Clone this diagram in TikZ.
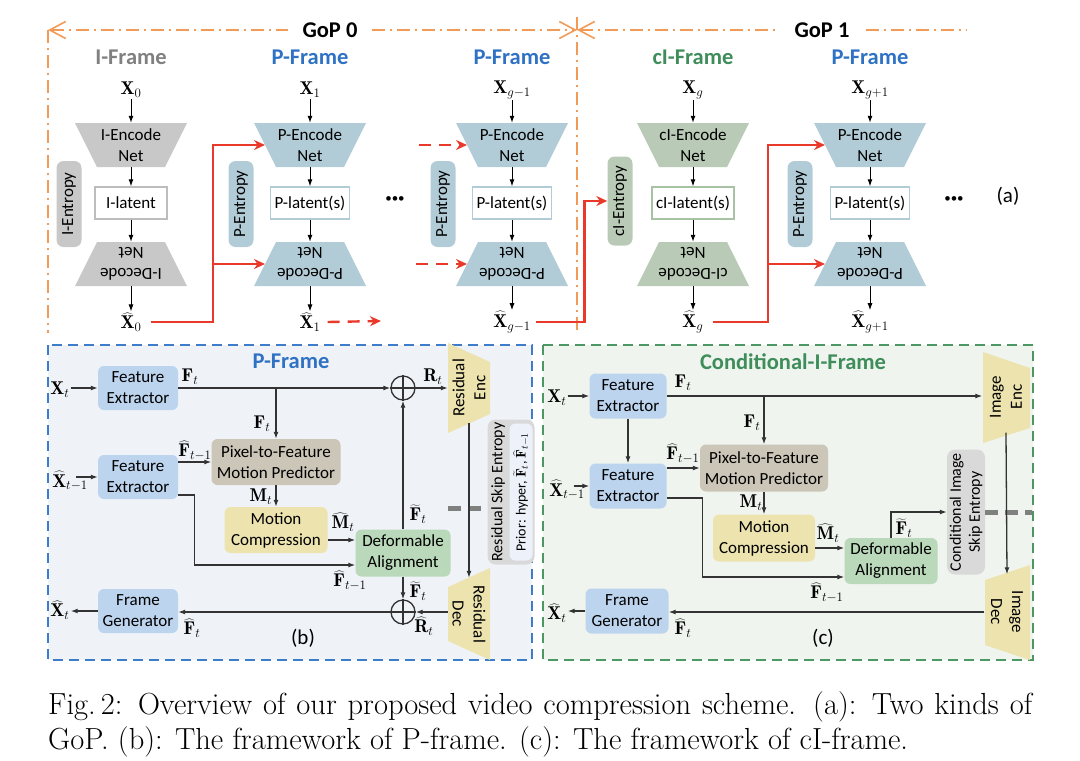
\RequirePackage{fix-cm}
\documentclass[tikz,border=0pt]{standalone}
\usepackage{fontspec}
\newfontfamily\diag{Carlito}
\usetikzlibrary{arrows.meta,calc,backgrounds}

\definecolor{ifill}{HTML}{C8C8C8}
\definecolor{pfill}{HTML}{B2CCD7}
\definecolor{cfill}{HTML}{B9CBB6}
\definecolor{iline}{HTML}{BDBDBD}
\definecolor{cline}{HTML}{A8C2A4}
\definecolor{ititle}{HTML}{808080}
\definecolor{ptitle}{HTML}{2F72C4}
\definecolor{ctitle}{HTML}{3E8D5A}
\definecolor{gopcol}{HTML}{F29B58}
\definecolor{rotlinie}{HTML}{E8392B}
\definecolor{fefill}{HTML}{BDD4EE}
\definecolor{pmfill}{HTML}{CCC6B8}
\definecolor{mcfill}{HTML}{EDE3AE}
\definecolor{dafill}{HTML}{BAD8BA}
\definecolor{skfill}{HTML}{D9D9D9}
\definecolor{prfill}{HTML}{EDF1FA}
\definecolor{bbox}{HTML}{3D7CC9}
\definecolor{bback}{HTML}{EFF3F8}
\definecolor{cbox}{HTML}{4C9764}
\definecolor{cback}{HTML}{EFF4EF}
\definecolor{pfeilcol}{HTML}{333333}

\tikzset{
  txt/.style={font=\diag\fontsize{17}{21}\selectfont, align=center},
  lab/.style={inner sep=1pt, font=\fontsize{18.5}{21}\selectfont},
  titel/.style={font=\diag\bfseries\fontsize{22.5}{25}\selectfont},
  trap/.style={txt, minimum width=112, minimum height=44, inner sep=0},
  latent/.style={txt, draw=#1, line width=1.3pt, fill=white, minimum width=72, minimum height=32, inner xsep=4pt},
  entro/.style={txt, fill=#1, rotate=90, rounded corners=7, minimum width=86, minimum height=25, inner sep=0},
  feat/.style={txt, fill=#1, rounded corners=6, inner sep=0},
  plus/.style={circle, draw=pfeilcol, line width=1.3pt, minimum size=24, inner sep=0},
  pfeil/.style={-{Latex[length=7pt,width=5pt]}, line width=1pt},
  dpfeil/.style={pfeil, draw=pfeilcol, line width=1.3pt},
  rot/.style={draw=rotlinie, line width=2.4pt, -{Stealth[length=11pt,width=10pt]}},
  gop/.style={draw=gopcol, line width=1.6pt, dash pattern=on 13pt off 5pt on 2pt off 5pt, >={Straight Barb[length=16pt,width=17pt]}},
  skip/.style={draw=gray, line width=5pt, dash pattern=on 13pt off 7pt}
}

\begin{document}
\begin{tikzpicture}[x=1pt,y=-1pt]
\useasboundingbox (0,0) rectangle (1080,761);

% GoP Linien
\coordinate (gl) at (48,30);
\coordinate (glu) at (48,333);
\coordinate (gm) at (577,30);
\coordinate (gmo) at (577,17);
\coordinate (gmu) at (577,333);
\coordinate (gr) at (967,30);
\node[titel, fill=white, inner xsep=14pt] (gop0) at (330,30) {GoP 0};
\node[titel, fill=white, inner xsep=16pt] (gop1) at (822,30) {GoP 1};
\draw[gop, <-] (gl) -- (gop0);%links
\draw[gop, ->] (gop0) -- (gm);%rechts
\draw[gop, <-] (gm) -- (gop1);
\draw[gop] (gop1) -- (gr);
\draw[gop] (gl) -- (glu);%senkrecht links
\draw[gop] (gmo) -- (gmu);%senkrecht Mitte

% Spaltentitel
\node[titel, text=ititle] (t0) at (131,57) {I-Frame};
\node[titel, text=ptitle] (t1) at (310,57) {P-Frame};
\node[titel, text=ptitle] (t2) at (512,57) {P-Frame};
\node[titel, text=ctitle] (t3) at (693,57) {cI-Frame};
\node[titel, text=ptitle] (t4) at (870,57) {P-Frame};

% I-Frame
\node[lab] (x0) at (131,90) {$\mathbf{X}_0$};
\node[trap] (ie) at (131,145) {I-Encode\\Net};
\node[latent=iline] (il) at (131,203) {I-latent};
\node[trap, rotate=180] (id) at (131,264) {I-Decode\\Net};
\node[lab] (xh0) at (131,322) {$\widehat{\mathbf{X}}_0$};
\node[entro=ifill] (ient) at (69,204) {I-Entropy};

% P-Frame 1
\node[lab] (x1) at (310,90) {$\mathbf{X}_1$};
\node[trap] (pe1) at (310,145) {P-Encode\\Net};
\node[latent=pfill] (pl1) at (310,203) {P-latent(s)};
\node[trap, rotate=180] (pd1) at (310,264) {P-Decode\\Net};
\node[lab] (xh1) at (310,322) {$\widehat{\mathbf{X}}_1$};
\node[entro=pfill] (pent1) at (241,204) {P-Entropy};

% P-Frame g-1
\node[lab] (x2) at (512,90) {$\mathbf{X}_{g-1}$};
\node[trap] (pe2) at (512,145) {P-Encode\\Net};
\node[latent=pfill] (pl2) at (512,203) {P-latent(s)};
\node[trap, rotate=180] (pd2) at (512,264) {P-Decode\\Net};
\node[lab] (xh2) at (512,322) {$\widehat{\mathbf{X}}_{g-1}$};
\node[entro=pfill] (pent2) at (443,204) {P-Entropy};

% cI-Frame
\node[lab] (x3) at (693,90) {$\mathbf{X}_g$};
\node[trap] (ce) at (693,145) {cI-Encode\\Net};
\node[latent=cline] (cl) at (693,203) {cI-latent(s)};
\node[trap, rotate=180] (cd) at (693,264) {cI-Decode\\Net};
\node[lab] (xh3) at (693,322) {$\widehat{\mathbf{X}}_g$};
\node[entro=cfill, minimum width=89] (cent) at (620,201) {cI-Entropy};

% P-Frame g+1
\node[lab] (x4) at (870,90) {$\mathbf{X}_{g+1}$};
\node[trap] (pe4) at (870,145) {P-Encode\\Net};
\node[latent=pfill] (pl4) at (870,203) {P-latent(s)};
\node[trap, rotate=180] (pd4) at (870,264) {P-Decode\\Net};
\node[lab] (xh4) at (870,322) {$\widehat{\mathbf{X}}_{g+1}$};
\node[entro=pfill] (pent4) at (800,204) {P-Entropy};

\node[font=\diag\fontsize{13}{13}\selectfont] (dots1) at (395,200) {\textbullet\textbullet\textbullet};
\node[font=\diag\fontsize{13}{13}\selectfont] (dots2) at (954,200) {\textbullet\textbullet\textbullet};
\node[txt, font=\diag\fontsize{21}{24}\selectfont] (la) at (1008,196) {(a)};

% senkrechte Pfeile
\foreach \a/\b/\c/\d/\e in {x0/ie/il/id/xh0, x1/pe1/pl1/pd1/xh1, x2/pe2/pl2/pd2/xh2, x3/ce/cl/cd/xh3, x4/pe4/pl4/pd4/xh4}
{
  \draw[pfeil] (\a) -- (\b);
  \draw[pfeil] (\b) -- (\c);
  \draw[pfeil] (\c) -- (\d);
  \draw[pfeil] (\d) -- (\e);
}

% rote Verbindungen
\coordinate (d1) at (381,321);
\coordinate (d2) at (419,145);
\coordinate (d3) at (416,264);
\draw[rot] ($(xh0.east)+(8,0)$) -| ($(pe1)+(-97,0)$) -- ($(pe1)+(-45,0)$);
\draw[rot] ($(pd1)+(-97,0)$) -- ($(pd1)+(-45,0)$);
\draw[rot, dash pattern=on 12pt off 8pt] ($(xh1.east)+(6,0)$) -- (d1);
\draw[rot, dash pattern=on 12pt off 8pt] (d2) -- ($(pe2)+(-45,0)$);
\draw[rot, dash pattern=on 12pt off 8pt] (d3) -- ($(pd2)+(-45,0)$);
\draw[rot] ($(xh2.east)+(4,0)$) -| ($(cent.north)+(-23,0)$) -- (cent.north);
\draw[rot] ($(xh3.east)+(8,0)$) -| ($(pe4)+(-102,0)$) -- ($(pe4)+(-45,0)$);
\draw[rot] ($(pd4)+(-102,0)$) -- ($(pd4)+(-45,0)$);

% ---------- (b) P-Frame ----------
\node[titel, text=ptitle] (tb) at (291,361) {P-Frame};
\node[lab] (xtb) at (60,390) {$\mathbf{X}_t$};
\node[feat=fefill, minimum width=80, minimum height=44] (fe1b) at (138,388) {Feature\\Extractor};
\node[feat=fefill, minimum width=80, minimum height=44] (fe2b) at (138,477) {Feature\\Extractor};
\node[feat=pmfill, minimum width=129, minimum height=46] (pmb) at (276,462) {Pixel-to-Feature\\Motion Predictor};
\node[feat=mcfill, minimum width=103, minimum height=46] (mcb) at (276,530) {Motion\\Compression};
\node[feat=dafill, minimum width=95, minimum height=47] (dab) at (403,553) {Deformable\\Alignment};
\node[feat=fefill, minimum width=80, minimum height=44] (fgb) at (138,611) {Frame\\Generator};
\node[plus] (op1b) at (403,388) {};
\node[plus] (op2b) at (403,612) {};
\node[txt, rotate=90, minimum width=90, minimum height=42, inner sep=0] (reb) at (469,388) {Residual\\Enc};
\node[txt, rotate=-90, minimum width=92, minimum height=42, inner sep=0] (rdb) at (469,614) {Residual\\Dec};
\node[rotate=90, fill=skfill, rounded corners=8, minimum width=145, minimum height=47, inner sep=0] (rseb) at (511,492) {};
\node[txt, rotate=90, font=\diag\fontsize{16}{18}\selectfont, inner sep=0] (rsetxt) at (498,492) {Residual Skip Entropy};
\node[rotate=90, fill=prfill, rounded corners=6, minimum width=137, minimum height=23, inner sep=0, font=\diag\fontsize{14}{15}\selectfont] (prior) at (521,492) {Prior: hyper, $\widetilde{\mathbf{F}}_t$, $\widehat{\mathbf{F}}_{t-1}$};
\node[lab] (lfb) at (190,377) {$\mathbf{F}_t$};
\node[lab] (lfb2) at (262,424) {$\mathbf{F}_t$};
\node[lab] (lfhb) at (195,451) {$\widehat{\mathbf{F}}_{t-1}$};
\node[lab] (lmb) at (261,497) {$\mathbf{M}_t$};
\node[lab] (lmhb) at (343,522) {$\widehat{\mathbf{M}}_t$};
\node[lab] (lfhb2) at (350,581) {$\widehat{\mathbf{F}}_{t-1}$};
\node[lab] (lftb) at (418,514) {$\widetilde{\mathbf{F}}_t$};
\node[lab] (lftb2) at (418,591) {$\widetilde{\mathbf{F}}_t$};
\node[lab] (lrb) at (433,377) {$\mathbf{R}_t$};
\node[lab] (lrhb) at (424,626) {$\widehat{\mathbf{R}}_t$};
\node[lab] (lfhb3) at (192,628) {$\widehat{\mathbf{F}}_t$};
\node[lab] (xhtb) at (60,610) {$\widehat{\mathbf{X}}_t$};
\node[lab] (xt1b) at (70,481) {$\widehat{\mathbf{X}}_{t-1}$};
\node[txt, font=\diag\fontsize{21}{24}\selectfont] (lbb) at (303,638) {(b)};
\coordinate (gbb) at (448,508);

\draw[dpfeil] (xtb.east |- fe1b) -- (fe1b);
\draw[dpfeil] (fe1b) -- (op1b);
\draw[dpfeil] (pmb.north |- fe1b.east) -- (pmb.north);
\draw[dpfeil] ([xshift=-13pt]xt1b.east |- fe2b.west) -- (fe2b.west);
\draw[dpfeil] (fe2b.east |- pmb.west) -- (pmb.west);
\draw[dpfeil] ($(fe2b.east)+(0,18)$) -- ++(16,0) |- ($(dab.west)+(0,12)$);
\draw[dpfeil] (pmb) -- (mcb);
\draw[dpfeil] ($(mcb.east)+(0,10)$) -- ($(dab.west)+(0,-13)$);
\draw[dpfeil] (dab) -- (op1b);
\draw[dpfeil] (op1b) -- (reb.north);
\draw[skip] (gbb) -- (gbb -| rseb.north);%Skip
\draw[dpfeil] ($(reb.west)+(0,-10)$) -- ($(rdb.west)+(0,10)$);
\draw[dpfeil] (op2b.east -| rdb.south) -- (op2b.east);
\draw[dpfeil] (dab) -- (op2b);
\draw[dpfeil] (op2b.west) -- (op2b.west -| fgb.east);
\draw[dpfeil] (fgb.west) -- (fgb.west -| xhtb.east);
\draw[pfeilcol, line width=1.3pt] (op1b.north) -- (op1b.south) (op1b.west) -- (op1b.east);
\draw[pfeilcol, line width=1.3pt] (op2b.north) -- (op2b.south) (op2b.west) -- (op2b.east);

% ---------- (c) Conditional-I-Frame ----------
\node[titel, text=ctitle] (tc) at (793,362) {Conditional-I-Frame};
\node[lab] (xtc) at (557,398) {$\mathbf{X}_t$};
\node[feat=fefill, minimum width=77, minimum height=45] (fe1c) at (628,396) {Feature\\Extractor};
\node[feat=fefill, minimum width=77, minimum height=45] (fe2c) at (628,486) {Feature\\Extractor};
\node[feat=pmfill, minimum width=128, minimum height=47] (pmc) at (764,468) {Pixel-to-Feature\\Motion Predictor};
\node[feat=mcfill, minimum width=102, minimum height=47] (mcc) at (764,538) {Motion\\Compression};
\node[feat=dafill, minimum width=93, minimum height=46] (dac) at (891,561) {Deformable\\Alignment};
\node[feat=fefill, minimum width=83, minimum height=45] (fgc) at (627,611) {Frame\\Generator};
\node[txt, rotate=90, minimum width=91, minimum height=47, inner sep=0] (iec) at (1006,397) {Image\\Enc};
\node[txt, rotate=-90, minimum width=95, minimum height=45, inner sep=0] (idc) at (1007,612) {Image\\Dec};
\node[txt, rotate=90, fill=skfill, rounded corners=8, minimum width=125, minimum height=38, inner sep=0, font=\diag\fontsize{16}{19}\selectfont] (cise) at (966,512) {Conditional Image\\Skip Entropy};
\node[lab] (lfc) at (683,383) {$\mathbf{F}_t$};
\node[lab] (lfc2) at (752,423) {$\mathbf{F}_t$};
\node[lab] (lfhc) at (683,454) {$\widehat{\mathbf{F}}_{t-1}$};
\node[lab] (lmc) at (751,503) {$\mathbf{M}_t$};
\node[lab] (lmhc) at (828,533) {$\widehat{\mathbf{M}}_t$};
\node[lab] (lfhc2) at (827,593) {$\widehat{\mathbf{F}}_{t-1}$};
\node[lab] (lftc) at (904,528) {$\widetilde{\mathbf{F}}_t$};
\node[lab] (lfhc3) at (683,628) {$\widehat{\mathbf{F}}_t$};
\node[lab] (xhtc) at (557,613) {$\widehat{\mathbf{X}}_t$};
\node[lab] (xt1c) at (567,490) {$\widehat{\mathbf{X}}_{t-1}$};
\node[txt, font=\diag\fontsize{21}{24}\selectfont] (lcc) at (823,638) {(c)};
\coordinate (gcc) at (1032,512);

\draw[dpfeil] (xtc.east |- fe1c) -- (fe1c);
\draw[dpfeil] (fe1c.east) -- (fe1c.east -| iec.north);
\draw[dpfeil] (pmc.north |- fe1c.east) -- (pmc.north);
\draw[dpfeil] (fe1c) -- (fe2c);
\draw[dpfeil] ([xshift=-12pt]xt1c.east |- fe2c.west) -- (fe2c.west);
\draw[dpfeil] (fe2c.east |- pmc.west) -- (pmc.west);
\draw[dpfeil] ($(fe2c.east)+(0,12)$) -- ++(36,0) |- ($(dac.west)+(0,16)$);
\draw[dpfeil] (pmc) -- (mcc);
\draw[dpfeil] ($(mcc.east)+(0,10)$) -- ($(dac.west)+(0,-13)$);
\draw[dpfeil] (dac.north) |- (cise.north);
\draw[skip] (cise.south |- gcc) -- (gcc);%Skip
\draw[dpfeil] ($(iec.west)+(0,-10)$) -- ($(idc.west)+(0,10)$);
\draw[dpfeil] (idc.south) -- (idc.south -| fgc.east);
\draw[dpfeil] (fgc.west) -- (fgc.west -| xhtc.east);

% Bildunterschrift
\node[anchor=base west, inner sep=0, font=\fontsize{30.5}{35}\selectfont] (cap1) at (48,714) {\makebox[984pt][s]{Fig.\,2: Overview of our proposed video compression scheme. (a): Two kinds of}};
\node[anchor=base west, inner sep=0, font=\fontsize{30.5}{35}\selectfont] (cap2) at (48,749) {GoP. (b): The framework of P-frame. (c): The framework of cI-frame.};

% Hintergrund
\begin{scope}[on background layer]
\fill[bback] (48,345) rectangle (532,660);
\draw[bbox, line width=1.8pt, dash pattern=on 10pt off 6pt] (48,345) rectangle (532,660);
\fill[cback] (543,345) rectangle (1033,660);
\draw[cbox, line width=1.8pt, dash pattern=on 10pt off 6pt] (543,345) rectangle (1033,660);
\foreach \k/\farbe in {ie/ifill, pe1/pfill, pe2/pfill, ce/cfill, pe4/pfill}
  \fill[\farbe] ($(\k)+(-56,-22)$) -- ($(\k)+(56,-22)$) -- ($(\k)+(34,22)$) -- ($(\k)+(-34,22)$) -- cycle;%Encoder
\foreach \k/\farbe in {id/ifill, pd1/pfill, pd2/pfill, cd/cfill, pd4/pfill}
  \fill[\farbe] ($(\k)+(-34,-22)$) -- ($(\k)+(34,-22)$) -- ($(\k)+(56,22)$) -- ($(\k)+(-56,22)$) -- cycle;%Decoder
\fill[mcfill] ($(reb)+(-21,-45)$) -- ($(reb)+(21,-26)$) -- ($(reb)+(21,26)$) -- ($(reb)+(-21,45)$) -- cycle;%Residual Enc
\fill[mcfill] ($(rdb)+(-21,-27)$) -- ($(rdb)+(21,-46)$) -- ($(rdb)+(21,46)$) -- ($(rdb)+(-21,27)$) -- cycle;%Residual Dec
\fill[mcfill] ($(iec)+(-23,-45)$) -- ($(iec)+(24,-29)$) -- ($(iec)+(24,31)$) -- ($(iec)+(-23,46)$) -- cycle;%Image Enc
\fill[mcfill] ($(idc)+(-22,-32)$) -- ($(idc)+(23,-47)$) -- ($(idc)+(23,48)$) -- ($(idc)+(-22,33)$) -- cycle;%Image Dec
\end{scope}
\end{tikzpicture}
\end{document}
